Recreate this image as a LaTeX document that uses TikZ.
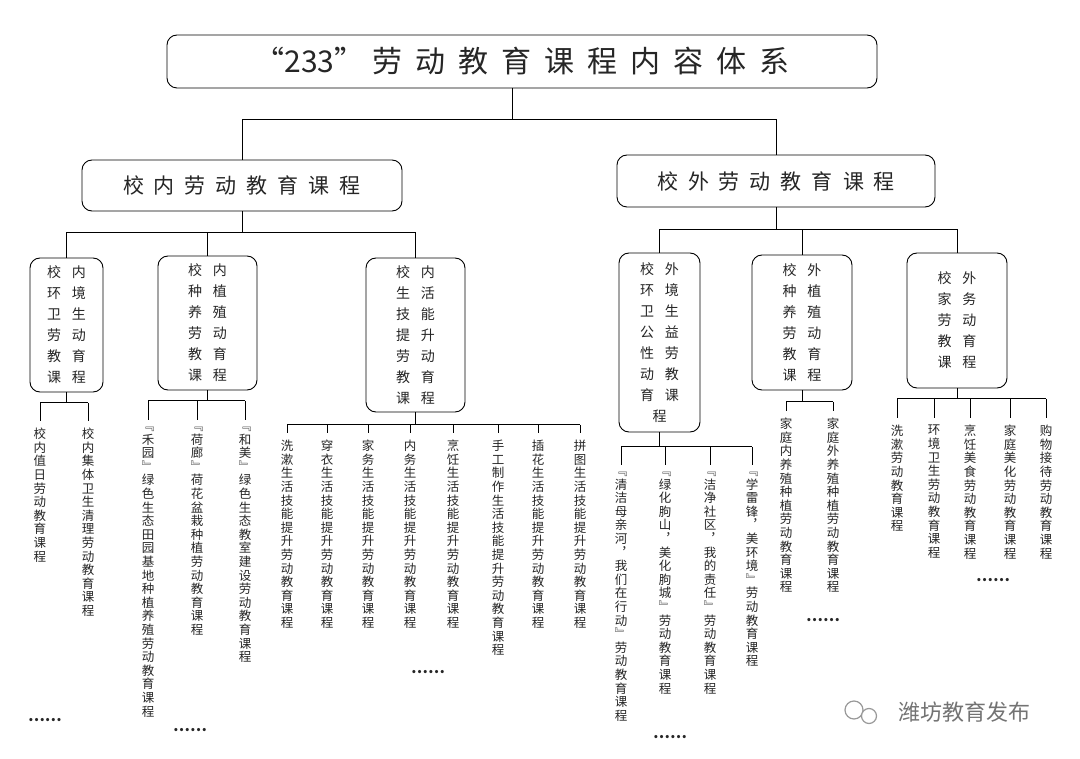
\documentclass[tikz,border=0pt]{standalone}
\usepackage{fontspec}
\setmainfont{Noto Sans CJK SC}
\usetikzlibrary{calc}
\makeatletter
\def\lsp#1#2{\def\lsp@s{}\@tfor\lsp@c:=#2\do{\lsp@s\lsp@c\def\lsp@s{\hspace{#1}}}}
\def\vt#1{\vbox{\baselineskip=13.6pt\lineskiplimit=-100pt\lineskip=0pt\@tfor\vt@c:=#1\do{\hbox to 13pt{\hss\vt@c\hss}}}}
\makeatother
\newcommand\bl[1]{\lsp{11pt}{#1}}
\definecolor{txt}{HTML}{262626}
\tikzset{
  box/.style={draw, line width=0.9pt, rounded corners=10pt, text=txt, inner sep=0pt, align=center},
  sbox/.style={box, font=\fontsize{14}{21}\selectfont},
  leaf/.style={anchor=north, inner sep=0pt, text=txt, font=\fontsize{12.5}{13.6}\selectfont},
  conn/.style={line width=1pt},
  dots/.style={font=\bfseries\fontsize{15}{15}\selectfont, text=txt}
}
\newcommand\brk[5]{% parent, bus y, first, last, all
  \draw[conn] (#1.south) -- (#1.south |- 0,#2);
  \draw[conn] (#3.north |- 0,#2) -- (#4.north |- 0,#2);
  \foreach \l in {#5}{\draw[conn] (\l.north |- 0,#2) -- ([yshift=7pt]\l.north);}
}
\begin{document}
\begin{tikzpicture}[x=1pt,y=-1pt]
\useasboundingbox[fill=white] (0,0) rectangle (1080,759);
\node[box, minimum width=710pt, minimum height=53pt, font=\fontsize{30}{30}\selectfont] (title) at (522,61.5) {“233”\hspace{8pt}\lsp{13pt}{劳动教育课程内容体系}};
\node[box, minimum width=320pt, minimum height=51pt, font=\fontsize{21}{21}\selectfont] (L) at (242,185.5) {\lsp{10pt}{校内劳动教育课程}};
\node[box, minimum width=318pt, minimum height=52pt, font=\fontsize{21}{21}\selectfont] (R) at (776,181) {\lsp{10pt}{校外劳动教育课程}};
\coordinate (ts) at (512,88);
\draw[conn] (ts) -- (ts |- 0,120);
\draw[conn] (L.north) -- (L.north |- 0,120) -| (R.north);

\node[sbox, minimum width=73pt, minimum height=134pt] (b1) at (66.5,325) {\bl{校内}\\\bl{环境}\\\bl{卫生}\\\bl{劳动}\\\bl{教育}\\\bl{课程}};
\node[sbox, minimum width=99pt, minimum height=134pt] (b2) at (207.5,323) {\bl{校内}\\\bl{种植}\\\bl{养殖}\\\bl{劳动}\\\bl{教育}\\\bl{课程}};
\node[sbox, minimum width=99pt, minimum height=154pt] (b3) at (415.5,335) {\bl{校内}\\\bl{生活}\\\bl{技能}\\\bl{提升}\\\bl{劳动}\\\bl{教育}\\\bl{课程}};
\node[sbox, minimum width=81pt, minimum height=179pt] (b4) at (659.5,342.5) {\bl{校外}\\\bl{环境}\\\bl{卫生}\\\bl{公益}\\\bl{性劳}\\\bl{动教}\\\bl{育课}\\程\hspace{25pt}};
\node[sbox, minimum width=100pt, minimum height=135pt] (b5) at (802,322.5) {\bl{校外}\\\bl{种植}\\\bl{养殖}\\\bl{劳动}\\\bl{教育}\\\bl{课程}};
\node[sbox, minimum width=100pt, minimum height=135pt] (b6) at (957,320.5) {\bl{校外}\\\bl{家务}\\\bl{劳动}\\\bl{教育}\\\bl{课程}};

\draw[conn] (L.south) -- (L.south |- 0,233);
\draw[conn] (b1.north) -- (b1.north |- 0,233) -| (b3.north);
\draw[conn] (b2.north) -- (b2.north |- 0,233);
\draw[conn] (R.south) -- (R.south |- 0,230);
\draw[conn] (b4.north) -- (b4.north |- 0,230) -| (b6.north);
\draw[conn] (b5.north) -- (b5.north |- 0,230);

% leaves box1
\node[leaf] (a1) at (40,428) {\vt{校内值日劳动教育课程}};
\node[leaf] (a2) at (88,428) {\vt{校内集体卫生清理劳动教育课程}};
\brk{b1}{403}{a1}{a2}{a1,a2}
% box2
\node[leaf] (c1) at (148,427) {\vt{﹃禾园﹄绿色生态田园基地种植养殖劳动教育课程}};
\node[leaf] (c2) at (197,427) {\vt{﹃荷廊﹄荷花盆栽种植劳动教育课程}};
\node[leaf] (c3) at (245,427) {\vt{﹃和美﹄绿色生态教室建设劳动教育课程}};
\brk{b2}{401}{c1}{c3}{c1,c2,c3}
% box3
\node[leaf] (d1) at (287,440) {\vt{洗漱生活技能提升劳动教育课程}};
\node[leaf] (d2) at (327,440) {\vt{穿衣生活技能提升劳动教育课程}};
\node[leaf] (d3) at (368,440) {\vt{家务生活技能提升劳动教育课程}};
\node[leaf] (d4) at (410,440) {\vt{内务生活技能提升劳动教育课程}};
\node[leaf] (d5) at (453,440) {\vt{烹饪生活技能提升劳动教育课程}};
\node[leaf] (d6) at (498,440) {\vt{手工制作生活技能提升劳动教育课程}};
\node[leaf] (d7) at (538,440) {\vt{插花生活技能提升劳动教育课程}};
\node[leaf] (d8) at (580,440) {\vt{拼图生活技能提升劳动教育课程}};
\brk{b3}{425}{d1}{d8}{d1,d2,d3,d4,d5,d6,d7,d8}
% box4
\node[leaf] (e1) at (621,472) {\vt{﹃清洁母亲河︐我们在行动﹄劳动教育课程}};
\node[leaf] (e2) at (665,472) {\vt{﹃绿化朐山︐美化朐城﹄劳动教育课程}};
\node[leaf] (e3) at (710,472) {\vt{﹃洁净社区︐我的责任﹄劳动教育课程}};
\node[leaf] (e4) at (752,472) {\vt{﹃学雷锋︐美环境﹄劳动教育课程}};
\brk{b4}{447}{e1}{e4}{e1,e2,e3,e4}
% box5
\node[leaf] (f1) at (786,418) {\vt{家庭内养殖种植劳动教育课程}};
\node[leaf] (f2) at (833,418) {\vt{家庭外养殖种植劳动教育课程}};
\brk{b5}{402}{f1}{f2}{f1,f2}
% box6
\node[leaf] (g1) at (897,425) {\vt{洗漱劳动教育课程}};
\node[leaf] (g2) at (934,425) {\vt{环境卫生劳动教育课程}};
\node[leaf] (g3) at (970,425) {\vt{烹饪美食劳动教育课程}};
\node[leaf] (g4) at (1010,425) {\vt{家庭美化劳动教育课程}};
\node[leaf] (g5) at (1046,425) {\vt{购物接待劳动教育课程}};
\brk{b6}{399}{g1}{g5}{g1,g2,g3,g4,g5}

% dots
\node[dots] (o1) at (45,720) {……};
\node[dots] (o2) at (190,730) {……};
\node[dots] (o3) at (428,672) {……};
\node[dots] (o4) at (670,737) {……};
\node[dots] (o5) at (823,620) {……};
\node[dots] (o6) at (993,580) {……};

% watermark
\draw[gray!80, line width=1.2pt] (854,710) circle (9pt);
\draw[gray!80, line width=1.2pt, fill=white] (869,716) circle (7.5pt);
\node[text=gray!90!black, font=\fontsize{22}{22}\selectfont] (wm) at (964,712) {潍坊教育发布};
\end{tikzpicture}
\end{document}
